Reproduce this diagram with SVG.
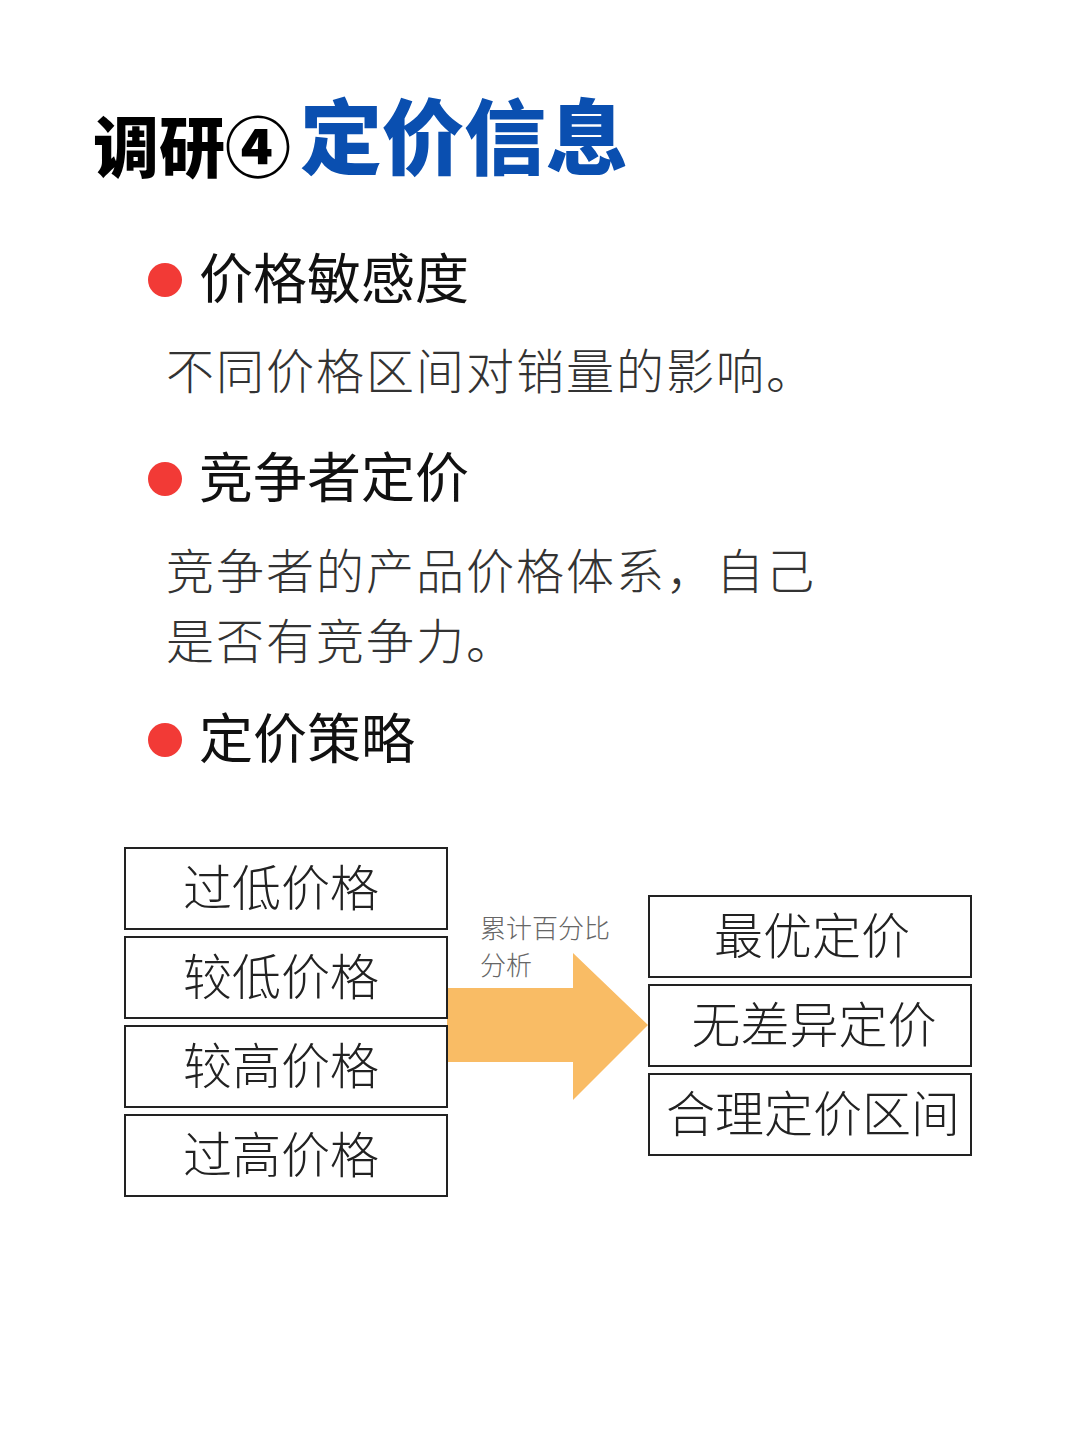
<svg xmlns="http://www.w3.org/2000/svg" width="1080" height="1443" viewBox="0 0 1080 1443">
<style>
.cjk{font-family:"Noto Sans CJK SC","Noto Sans CJK JP",sans-serif;}
.h{font-size:54px;fill:#111;font-weight:400;}
.b{font-size:48px;fill:#333;font-weight:300;letter-spacing:2px;}
.box{fill:#fff;stroke:#222;stroke-width:2;}
.bt{font-size:49px;fill:#222;font-weight:300;text-anchor:middle;}
.dot{fill:#f23a36;}
</style>
<rect width="1080" height="1443" fill="#fff"/>
<g id="title">
<text class="cjk" x="93" y="172" font-size="66" font-weight="900" fill="#000">调研④</text>
<text class="cjk" x="300" y="168" font-size="82" font-weight="900" fill="#0a4fb0">定价信息</text>
</g>
<g id="s1">
<circle class="dot" cx="165" cy="280" r="17"/>
<text class="cjk h" x="199" y="299">价格敏感度</text>
<text class="cjk b" x="166" y="389">不同价格区间对销量的影响。</text>
</g>
<g id="s2">
<circle class="dot" cx="165" cy="479" r="17"/>
<text class="cjk h" x="199" y="498">竞争者定价</text>
<text class="cjk b" x="166" y="589">竞争者的产品价格体系，自己</text>
<text class="cjk b" x="166" y="659">是否有竞争力。</text>
</g>
<g id="s3">
<circle class="dot" cx="165" cy="740" r="17"/>
<text class="cjk h" x="199" y="759">定价策略</text>
</g>
<g id="connectors">
<polygon points="447,988 573,988 573,953 648,1025 573,1100 573,1062 447,1062" fill="#f9bc65"/>
<text class="cjk" x="480" y="938" font-size="26" fill="#666" font-weight="300">累计百分比</text>
<text class="cjk" x="480" y="975" font-size="26" fill="#666" font-weight="300">分析</text>
</g>
<g id="n1"><rect class="box" x="125" y="848" width="322" height="81"/><text class="cjk bt" x="281" y="906">过低价格</text></g>
<g id="n2"><rect class="box" x="125" y="937" width="322" height="81"/><text class="cjk bt" x="281" y="995">较低价格</text></g>
<g id="n3"><rect class="box" x="125" y="1026" width="322" height="81"/><text class="cjk bt" x="281" y="1084">较高价格</text></g>
<g id="n4"><rect class="box" x="125" y="1115" width="322" height="81"/><text class="cjk bt" x="281" y="1173">过高价格</text></g>
<g id="r1"><rect class="box" x="649" y="896" width="322" height="81"/><text class="cjk bt" x="812" y="954">最优定价</text></g>
<g id="r2"><rect class="box" x="649" y="985" width="322" height="81"/><text class="cjk bt" x="814" y="1043">无差异定价</text></g>
<g id="r3"><rect class="box" x="649" y="1074" width="322" height="81"/><text class="cjk bt" x="813" y="1132">合理定价区间</text></g>
</svg>
